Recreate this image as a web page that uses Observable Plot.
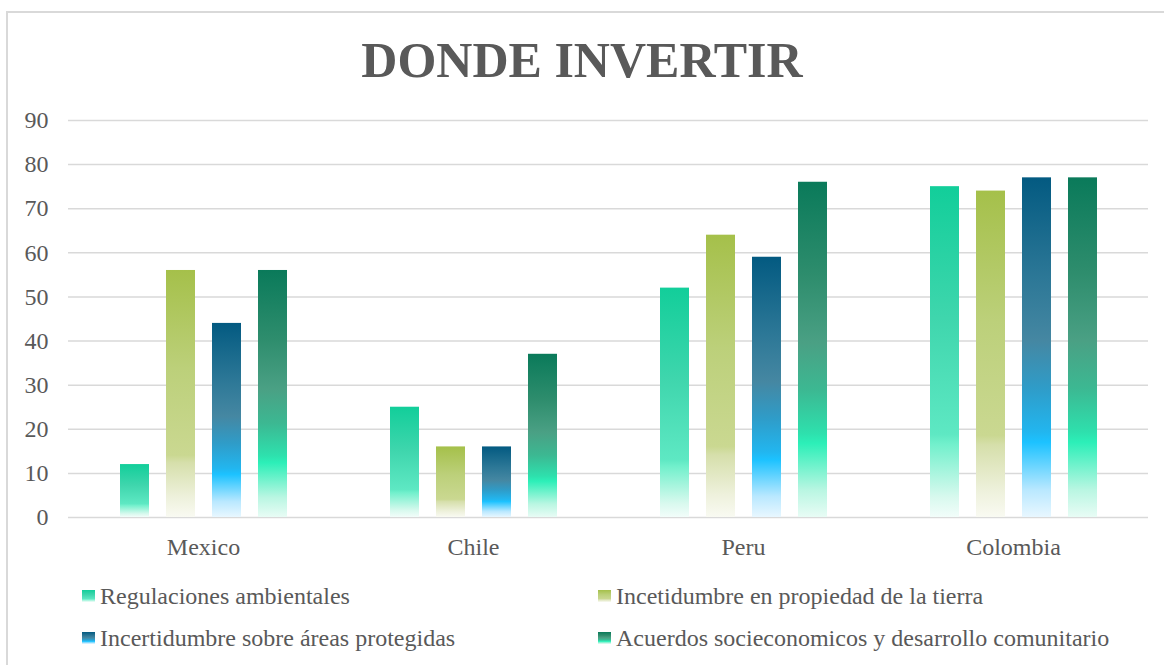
<!DOCTYPE html>
<html>
<head>
<meta charset="utf-8">
<script src="https://cdn.jsdelivr.net/npm/d3@7"></script>
<script src="https://cdn.jsdelivr.net/npm/@observablehq/plot@0.6"></script>
<style>
  html, body { margin: 0; padding: 0; background: #fff; }
  body { width: 1164px; height: 665px; position: relative; overflow: hidden;
         font-family: "Liberation Serif", "Times New Roman", serif; color: #595959; }
  #frame { position: absolute; left: 6px; top: 11px; width: 1200px; height: 700px;
           border: 2px solid #d9d9d9; box-sizing: border-box; }
  #title { position: absolute; left: 0; width: 1164px; top: 35px; text-align: center;
           font-size: 50px; line-height: 50px; font-weight: bold; color: #595959; white-space: nowrap; }
  #chart { position: absolute; left: 0; top: 100px; }
  .item { position: absolute; font-size: 24px; line-height: 24px; white-space: nowrap; color: #595959; }
  .sw { position: absolute; width: 13px; height: 12px; }
</style>
</head>
<body>
<div id="frame"></div>
<div id="title">DONDE INVERTIR</div>
<div id="chart"></div>
<div id="legend"></div>
<script>
const categories = ["Mexico", "Chile", "Peru", "Colombia"];
const series = [
  "Regulaciones ambientales",
  "Incetidumbre en propiedad de la tierra",
  "Incertidumbre sobre áreas protegidas",
  "Acuerdos socieconomicos y desarrollo comunitario"
];
const regulaciones = [12, 25, 52, 75];
const tierra = [56, 16, 64, 74];
const areas = [44, 16, 59, 77];
const acuerdos = [56, 37, 76, 77];
const yTicks = [0, 10, 20, 30, 40, 50, 60, 70, 80, 90];

// gradient stops per series (offset from bottom, colour)
const gradients = [
  [[0, "#f2fdfa"], [0.06, "#d8f9ee"], [0.22, "#72f0cc"], [0.25, "#5ee8c3"], [0.6, "#3fd6ad"], [1, "#12ce9a"]],
  [[0, "#f9faf2"], [0.08, "#eef1dc"], [0.22, "#d6dfab"], [0.25, "#cad891"], [0.6, "#bcd07a"], [1, "#a5c04a"]],
  [[0, "#e8f7ff"], [0.08, "#b9e8ff"], [0.22, "#1cc2ff"], [0.25, "#22b6ef"], [0.38, "#2f9cc8"], [0.52, "#4587a2"], [0.7, "#2d7897"], [1, "#035a81"]],
  [[0, "#e8fcf5"], [0.08, "#b9f6e2"], [0.22, "#2cefb8"], [0.25, "#2ee0ad"], [0.38, "#3cb892"], [0.52, "#4aa084"], [0.72, "#2e8d6d"], [1, "#0a7a5a"]]
];

const valuesBySeries = [regulaciones, tierra, areas, acuerdos];
const rows = categories.flatMap((c, i) =>
  valuesBySeries.map((vals, j) => ({
    category: c, series: series[j], value: vals[i], grad: `url(#grad${j})`
  }))
);

const chart = Plot.plot({
  width: 1164,
  height: 462,
  marginLeft: 68,
  marginRight: 16,
  marginTop: 20,
  marginBottom: 45,
  style: { fontFamily: "Liberation Serif, Times New Roman, serif", fontSize: "24px", color: "#595959", background: "transparent", overflow: "visible" },
  facet: { data: rows, x: "category" },
  fx: { domain: categories, padding: 0, axis: "bottom", label: null, tickSize: 0, tickPadding: 20 },
  x: { domain: series, paddingInner: 0.372, paddingOuter: 1.06, axis: null },
  y: { domain: [0, 90], ticks: yTicks, tickSize: 0, tickPadding: 20, label: null, tickFormat: d => String(d) },
  color: { type: "identity" },
  marks: [
    Plot.ruleY(yTicks, { stroke: "#d9d9d9", strokeWidth: 1.5 }),
    Plot.barY(rows, { x: "series", y: "value", fill: "grad" })
  ]
});

document.getElementById("chart").appendChild(chart);

const svgEl = chart.tagName.toLowerCase() === "svg" ? chart : chart.querySelector("svg");
const defs = d3.select(svgEl).insert("defs", ":first-child");
gradients.forEach((stops, j) => {
  const g = defs.append("linearGradient")
    .attr("id", `grad${j}`)
    .attr("x1", 0).attr("y1", 1).attr("x2", 0).attr("y2", 0);
  stops.forEach(([o, c]) => g.append("stop").attr("offset", o).attr("stop-color", c));
});

// legend
const legend = document.getElementById("legend");
const positions = [[82, 584], [598, 584], [82, 626], [598, 626]];
series.forEach((name, j) => {
  const [lx, ly] = positions[j];
  const sw = document.createElement("div");
  sw.className = "sw";
  sw.style.left = lx + "px";
  sw.style.top = (ly + 6) + "px";
  sw.style.background = `linear-gradient(to top, ${gradients[j].map(([o, c]) => `${c} ${o * 100}%`).join(", ")})`;
  legend.appendChild(sw);
  const t = document.createElement("div");
  t.className = "item";
  t.style.left = (lx + 18) + "px";
  t.style.top = ly + "px";
  t.textContent = name;
  legend.appendChild(t);
});
</script>
</body>
</html>
